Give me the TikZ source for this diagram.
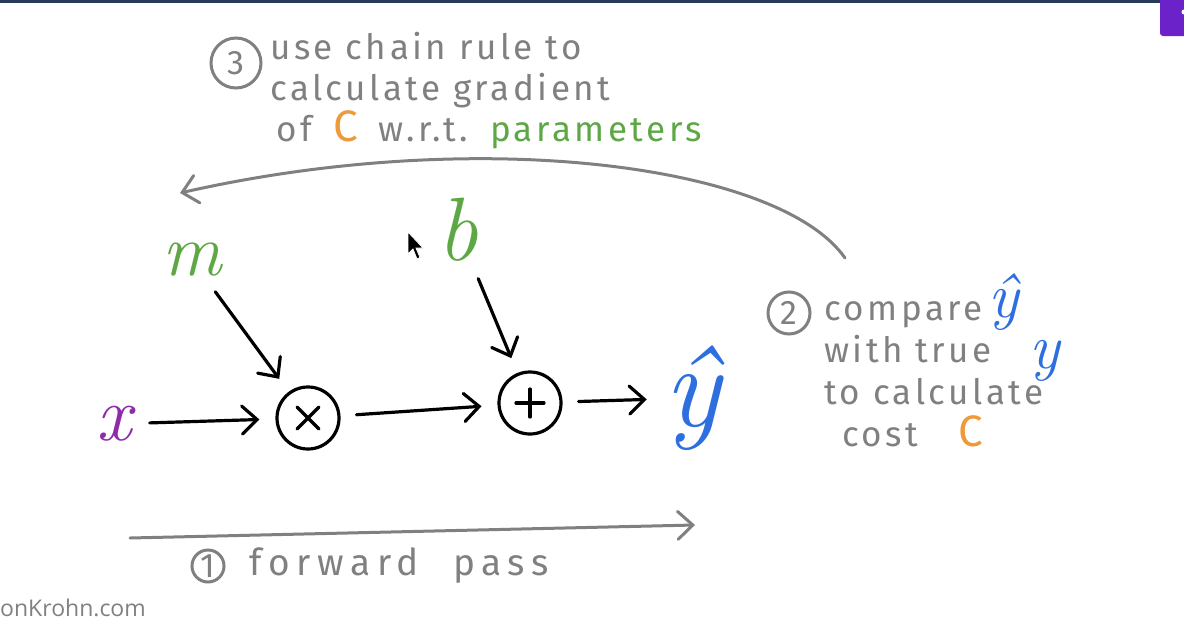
\documentclass[tikz,border=0pt]{standalone}
\usepackage{fontspec}
\newfontfamily\handfont[LetterSpace=10]{Fira Sans}
\newfontfamily\widehandfont[LetterSpace=18]{Fira Sans}
\newfontfamily\webfont{Open Sans}
\newfontfamily\letterfont{Latin Modern Roman}
\usepackage{xcolor}
\usepackage{tikz}
\usetikzlibrary{arrows.meta,positioning,calc}

\definecolor{inkgray}{HTML}{808080}
\definecolor{inkgreen}{HTML}{5DA845}
\definecolor{inkpurple}{HTML}{8E2BA8}
\definecolor{inkblue}{HTML}{2E6FE0}
\definecolor{inkorange}{HTML}{EE9A3A}
\definecolor{barnavy}{HTML}{2A3A5C}
\definecolor{tabpurple}{HTML}{6B22C9}

\newcommand{\costC}{{\color{inkorange}\fontsize{44}{41}\selectfont C}}
\newcommand{\bluey}[2][0pt]{\smash{\raisebox{#1}{\color{inkblue}\letterfont\itshape\fontsize{64}{41}\selectfont #2}}}

\begin{document}
\begin{tikzpicture}[
    x=1pt, y=-1pt,
    var/.style={inner sep=2pt, font=\letterfont\itshape},
    op/.style={circle, draw=black, line width=3.2pt, minimum size=62pt, inner sep=0pt},
    signline/.style={line width=3.2pt, line cap=round},
    arrow/.style={-{Straight Barb[length=15pt, width=28pt, line cap=round]}, line width=3.2pt, line cap=round, shorten <=16pt, shorten >=16pt},
    passarrow/.style={-{Straight Barb[length=15pt, width=28pt, line cap=round]}, line width=3pt, line cap=round, draw=inkgray},
    note/.style={align=left, inner sep=0pt, text=inkgray, font=\handfont\fontsize{35}{41}\selectfont},
    circled/.style={circle, draw=inkgray, line width=3pt, inner sep=0pt, text=inkgray, font=\handfont\fontsize{34}{34}\selectfont}
]
    \useasboundingbox (0,0) rectangle (1184,624);
    \fill[white] (0,0) rectangle (1184,624);
    \fill[barnavy] (0,0) rectangle (1184,3);
    \fill[tabpurple, rounded corners=3pt] (1160,-6) rectangle (1192,36);
    \fill[white] (1184,12) circle (2.5);

    % graph
    \node [var, text=inkpurple, font=\letterfont\itshape\fontsize{78}{78}\selectfont] (x) at (114,424) {x};
    \node [op] (mul) at (308,418) {};
    \node [op] (add) at (530,403) {};
    \draw [signline] ($(mul)+(-11,-11)$) -- ($(mul)+(11,11)$) ($(mul)+(-11,11)$) -- ($(mul)+(11,-11)$);
    \draw [signline] ($(add)+(-14,0)$) -- ($(add)+(14,0)$) ($(add)+(0,-14)$) -- ($(add)+(0,14)$);
    \node [var, text=inkgreen, font=\letterfont\itshape\fontsize{74}{74}\selectfont] (m) at (192,260) {m};
    \node [var, text=inkgreen, font=\letterfont\itshape\fontsize{90}{90}\selectfont] (b) at (458,230) {b};
    \node [var, text=inkblue, font=\letterfont\itshape\fontsize{118}{118}\selectfont] (yhat) at (693,398) {ŷ};

    \draw [arrow] (x) -- (mul);
    \draw [arrow] (m) -- (mul);
    \draw [arrow] (mul) -- (add);
    \draw [arrow] (b) -- (add);
    \draw [arrow] (add) -- (yhat);

    % forward pass
    \coordinate (fwdstart) at (130,538);
    \coordinate (fwdend) at (695,525);
    \draw [passarrow] (fwdstart) -- (fwdend);
    \node [circled, minimum size=32pt] (n1) at (208,566) {1};
    \node [note, font=\widehandfont\fontsize{37}{41}\selectfont, right=24pt of n1] (fwdtext) {forward\hspace{34pt}pass};

    % compare with true y
    \node [circled, minimum size=42pt] (n2) at (789,313) {2};
    \node [note, font=\handfont\fontsize{35}{42}\selectfont, anchor=north west] (cmptext) at (824,301) {compare\hspace{6pt}\bluey[3pt]{ŷ}\\with true\hspace{38pt}\bluey[-6pt]{y}\\to calculate\\\hspace*{18pt}cost\hspace{40pt}\costC};

    % backward pass
    \coordinate (backstart) at (845,258);
    \coordinate (backend) at (180,193);
    \draw [passarrow] (backstart) .. controls (780,165) and (480,125) .. (backend);
    \node [circled, minimum size=50pt] (n3) at (236,63) {3};
    \node [note, anchor=north west] (chaintext) at (270,32) {use chain rule to\\calculate gradient\\\hspace*{6pt}of\hspace{22pt}\costC\hspace{20pt}w.r.t.\hspace{22pt}{\color{inkgreen}parameters}};

    % cursor and site
    \fill[black, draw=white, line width=0.8pt] (408,232) -- (408,254) -- (413,249) -- (417,259) -- (420,257.5) -- (416,248) -- (423,248) -- cycle;
    \node [anchor=west, inner sep=0pt, text=inkgray, font=\webfont\fontsize{23}{23}\selectfont] (site) at (0,608) {onKrohn.com};
\end{tikzpicture}
\end{document}
